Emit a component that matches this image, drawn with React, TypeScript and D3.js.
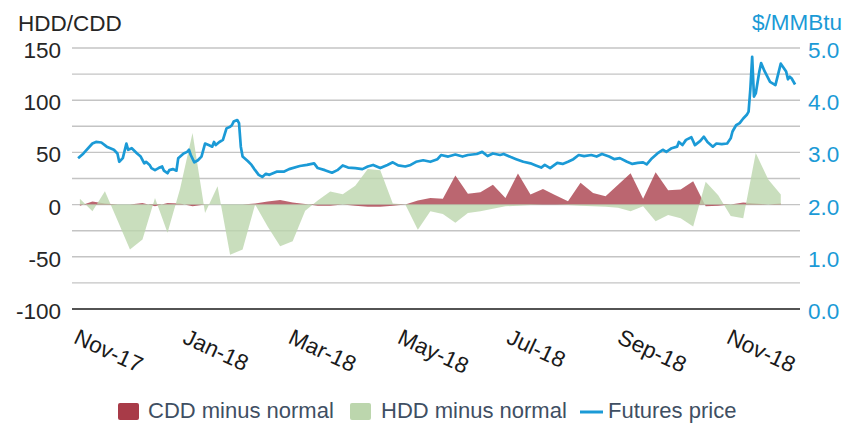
import React from 'react';
import * as d3 from 'd3';

// Weekly degree-day deviations
const weekDates = [
  '2017-11-04', '2017-11-11', '2017-11-18', '2017-11-25', '2017-12-02', '2017-12-09', '2017-12-16', '2017-12-23', '2017-12-30',
  '2018-01-06', '2018-01-13', '2018-01-20', '2018-01-27', '2018-02-03', '2018-02-10', '2018-02-17', '2018-02-24',
  '2018-03-03', '2018-03-10', '2018-03-17', '2018-03-24', '2018-03-31', '2018-04-07', '2018-04-14', '2018-04-21', '2018-04-28',
  '2018-05-05', '2018-05-12', '2018-05-19', '2018-05-26', '2018-06-02', '2018-06-09', '2018-06-16', '2018-06-23', '2018-06-30',
  '2018-07-07', '2018-07-14', '2018-07-21', '2018-07-28', '2018-08-04', '2018-08-11', '2018-08-18', '2018-08-25',
  '2018-09-01', '2018-09-08', '2018-09-15', '2018-09-22', '2018-09-29', '2018-10-06', '2018-10-13', '2018-10-20', '2018-10-27',
  '2018-11-03', '2018-11-10', '2018-11-17', '2018-11-24', '2018-12-01',
];

const cddMinusNormal = [
  -1, 3, 1, 0, 0, 1.5, -1.5, 1.5, 1,
  -1.5, 0, 0, 0, 0, 1, 3, 4.5,
  2, 0.5, -1, -1, 0, -1, -2, -2, -1,
  0, 4, 6.4, 5.5, 27.8, 10.5, 11.8, 19, 6.4,
  29.7, 9.6, 15, 9, 3.2, 21, 11, 8,
  19, 30, 5.5, 31, 13.7, 14.4, 22.3, -1.6, -1,
  0, 2, 1, 0, 1,
];

const hddMinusNormal = [
  5.5, -6.4, 12.7, -15, -43, -33.5, 6.4, -27, 15,
  68.7, -8, 17.5, -48, -43, 0, -21, -40,
  -35, -6, 4, 12.5, 10, 18, 34, 33, 1,
  0, -24, -6.4, -9, -17.5, -8, -6.4, -4, -1.6,
  -1, -0.5, 0, 0, -0.5, -1, -1.6, -2,
  -3, -6.4, -1.6, -16, -10, -13, -21, 22, 9,
  -11, -13, 49.5, 24, 9.6,
];

// Futures price ($/MMBtu)
const priceDates = [
  '2017-11-03', '2017-11-06', '2017-11-11', '2017-11-13', '2017-11-16', '2017-11-19', '2017-11-23', '2017-11-25', '2017-11-26', '2017-11-28', '2017-11-30',
  '2017-12-01', '2017-12-03', '2017-12-06', '2017-12-08', '2017-12-10', '2017-12-11', '2017-12-13', '2017-12-14', '2017-12-16', '2017-12-18', '2017-12-20',
  '2017-12-21', '2017-12-23', '2017-12-24', '2017-12-26', '2017-12-28', '2017-12-29',
  '2018-01-01', '2018-01-03', '2018-01-04', '2018-01-05', '2018-01-07', '2018-01-09', '2018-01-11', '2018-01-13', '2018-01-15', '2018-01-17',
  '2018-01-18', '2018-01-19', '2018-01-21', '2018-01-23', '2018-01-25', '2018-01-27', '2018-01-28', '2018-01-29', '2018-01-31',
  '2018-02-01', '2018-02-02', '2018-02-03', '2018-02-06', '2018-02-08', '2018-02-10', '2018-02-12', '2018-02-14', '2018-02-16', '2018-02-18', '2018-02-22', '2018-02-26',
  '2018-03-01', '2018-03-07', '2018-03-11', '2018-03-15', '2018-03-17', '2018-03-21', '2018-03-25', '2018-03-28', '2018-03-31',
  '2018-04-03', '2018-04-07', '2018-04-11', '2018-04-14', '2018-04-17', '2018-04-21', '2018-04-25', '2018-04-28',
  '2018-05-01', '2018-05-05', '2018-05-08', '2018-05-11', '2018-05-15', '2018-05-19', '2018-05-23', '2018-05-25', '2018-05-29',
  '2018-06-02', '2018-06-06', '2018-06-09', '2018-06-14', '2018-06-17', '2018-06-20', '2018-06-23', '2018-06-27', '2018-06-29',
  '2018-07-03', '2018-07-06', '2018-07-10', '2018-07-14', '2018-07-17', '2018-07-20', '2018-07-22', '2018-07-25', '2018-07-29',
  '2018-08-01', '2018-08-04', '2018-08-07', '2018-08-10', '2018-08-13', '2018-08-17', '2018-08-20', '2018-08-23', '2018-08-27', '2018-08-30',
  '2018-09-02', '2018-09-06', '2018-09-09', '2018-09-12', '2018-09-15', '2018-09-17', '2018-09-20', '2018-09-23', '2018-09-26', '2018-09-28',
  '2018-10-01', '2018-10-04', '2018-10-05', '2018-10-07', '2018-10-09', '2018-10-12', '2018-10-14', '2018-10-17', '2018-10-19', '2018-10-21',
  '2018-10-24', '2018-10-26', '2018-10-29',
  '2018-11-01', '2018-11-03', '2018-11-04', '2018-11-06', '2018-11-08', '2018-11-10', '2018-11-12', '2018-11-13', '2018-11-14', '2018-11-15',
  '2018-11-16', '2018-11-17', '2018-11-19', '2018-11-20', '2018-11-22', '2018-11-25', '2018-11-28',
  '2018-12-01', '2018-12-04', '2018-12-05', '2018-12-06', '2018-12-07', '2018-12-09',
];

const priceValues = [
  2.89, 2.98, 3.17, 3.2, 3.19, 3.11, 3.05, 2.98, 2.82, 2.89, 3.17,
  3.05, 3.08, 2.98, 2.92, 2.79, 2.82, 2.76, 2.7, 2.66, 2.7, 2.73,
  2.65, 2.6, 2.66, 2.68, 2.65, 2.89,
  2.98, 3.01, 3.05, 2.95, 2.81, 2.85, 2.92, 3.17, 3.14, 3.11,
  3.2, 3.14, 3.2, 3.24, 3.46, 3.49, 3.52, 3.59, 3.62,
  3.56, 3.11, 2.92, 2.83, 2.76, 2.66, 2.57, 2.53, 2.59, 2.57, 2.63, 2.63,
  2.68, 2.74, 2.76, 2.79, 2.7, 2.66, 2.61, 2.66, 2.75,
  2.71, 2.7, 2.68, 2.73, 2.76, 2.7, 2.76, 2.81,
  2.75, 2.73, 2.76, 2.82, 2.85, 2.82, 2.87, 2.95, 2.92,
  2.96, 2.92, 2.95, 2.97, 3.01, 2.93, 2.98, 2.95, 2.97,
  2.91, 2.87, 2.82, 2.79, 2.75, 2.71, 2.76, 2.7, 2.8,
  2.78, 2.82, 2.87, 2.95, 2.93, 2.95, 2.92, 2.97, 2.92, 2.87,
  2.89, 2.82, 2.78, 2.8, 2.81, 2.77, 2.89, 2.98, 3.05, 3.01,
  3.08, 3.11, 3.2, 3.14, 3.24, 3.29, 3.14, 3.22, 3.3, 3.2,
  3.11, 3.17, 3.16,
  3.17, 3.27, 3.4, 3.52, 3.56, 3.65, 3.72, 3.78, 4.22, 4.83,
  4.07, 4.13, 4.55, 4.71, 4.55, 4.35, 4.29,
  4.7, 4.55, 4.4, 4.45, 4.42, 4.3,
];

const gridValues = [-75, -50, -25, 0, 25, 50, 75, 100, 125, 150];
const leftTickValues = [-100, -50, 0, 50, 100, 150];
const rightTickValues = [0, 1, 2, 3, 4, 5];
const monthTickDates = ['2017-11-01', '2018-01-01', '2018-03-01', '2018-05-01', '2018-07-01', '2018-09-01', '2018-11-01'];

const FONT = '"Liberation Sans", Arial, Helvetica, sans-serif';
const BLUE = '#1b9ad6';
const RED = '#a83b48';
const GREEN = '#bcd6ad';

export default function App() {
  const W = 847;
  const H = 423;
  const parse = d3.timeParse('%Y-%m-%d');
  const x = d3
    .scaleTime()
    .domain([new Date(2017, 9, 30, 14), new Date(2018, 11, 11, 18)])
    .range([72, 800]);
  const yL = d3.scaleLinear().domain([-100, 150]).range([309, 48]);
  const yR = d3.scaleLinear().domain([0, 5]).range([309, 48]);
  const fmtMonth = d3.timeFormat('%b-%y');
  const fmtR = d3.format('.1f');

  const weeks = weekDates.map((d) => parse(d) as Date);
  const cddData = weeks.map((d, i) => ({ d, v: cddMinusNormal[i] }));
  const hddData = weeks.map((d, i) => ({ d, v: hddMinusNormal[i] }));
  const priceData = priceDates.map((d, i) => ({ d: parse(d) as Date, v: priceValues[i] }));

  const area = d3
    .area<{ d: Date; v: number }>()
    .x((p) => x(p.d))
    .y0(yL(0))
    .y1((p) => yL(p.v));
  const line = d3
    .line<{ d: Date; v: number }>()
    .x((p) => x(p.d))
    .y((p) => yR(p.v));

  const [x0, x1] = x.range();

  return (
    <svg
      width={W}
      height={H}
      style={{ position: 'absolute', left: 0, top: 0, background: '#fff' }}
      fontFamily={FONT}
    >
      <rect x={0} y={0} width={W} height={H} fill="#fff" />
      {gridValues.map((g) => (
        <line key={g} x1={x0} x2={x1} y1={yL(g)} y2={yL(g)} stroke="#c4c4c4" strokeWidth={1.4} />
      ))}
      <path d={area(cddData) || ''} fill={RED} fillOpacity={0.78} />
      <path d={area(hddData) || ''} fill={GREEN} fillOpacity={0.8} />
      <line x1={x0} x2={x1} y1={yL(-100)} y2={yL(-100)} stroke="#1a1a1a" strokeWidth={1.6} />
      <path d={line(priceData) || ''} fill="none" stroke={BLUE} strokeWidth={2.7} strokeLinejoin="round" />

      {/* Left axis */}
      <text x={18} y={31} fontSize={22.5} fill="#262626">HDD/CDD</text>
      {leftTickValues.map((t) => (
        <text key={t} x={61} y={yL(t) + 10} fontSize={22.5} textAnchor="end" fill="#262626">
          {t}
        </text>
      ))}
      {/* Right axis */}
      <text x={752} y={30} fontSize={22.5} fill={BLUE}>$/MMBtu</text>
      {rightTickValues.map((t) => (
        <text key={t} x={808} y={yR(t) + 10} fontSize={22.5} fill={BLUE}>
          {fmtR(t)}
        </text>
      ))}
      {/* X axis labels */}
      {monthTickDates.map((s) => {
        const d = parse(s) as Date;
        const px = x(d) - 2;
        return (
          <text key={s} x={px} y={342.5} fontSize={22.5} fill="#1a1a1a" transform={`rotate(25 ${px} 342.5)`}>
            {fmtMonth(d)}
          </text>
        );
      })}

      {/* Legend */}
      <g fontSize={22} fill="#3f4f63">
        <rect x={118} y={403} width={21} height={17} rx={2} fill={RED} />
        <text x={148} y={417.5}>CDD minus normal</text>
        <rect x={350} y={403} width={21} height={17} rx={2} fill={GREEN} />
        <text x={381} y={417.5}>HDD minus normal</text>
        <line x1={580} x2={603} y1={412} y2={412} stroke={BLUE} strokeWidth={3} />
        <text x={608} y={417.5}>Futures price</text>
      </g>
    </svg>
  );
}
